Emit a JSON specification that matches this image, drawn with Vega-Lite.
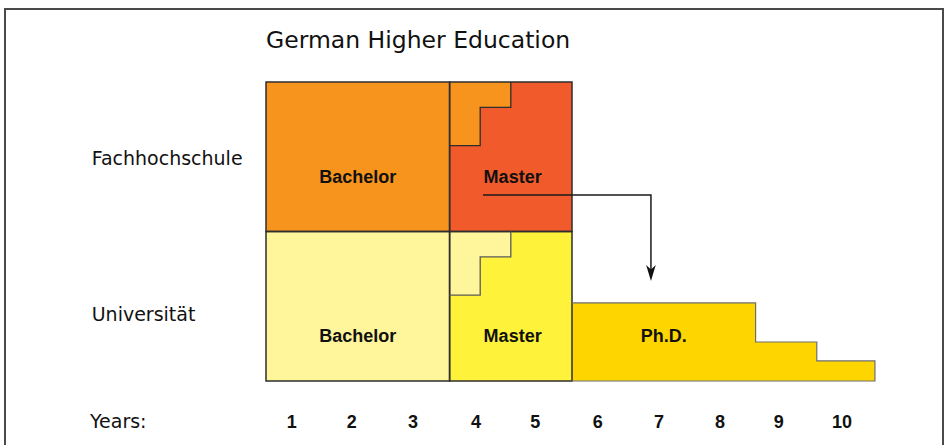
{
  "$schema": "https://vega.github.io/schema/vega-lite/v6.json",
  "width": 938,
  "height": 440,
  "autosize": {"type": "none"},
  "padding": {"left": 5, "top": 9, "right": 4, "bottom": 0},
  "background": "white",
  "config": {"view": {"stroke": "#4a4a4a", "strokeWidth": 2}},
  "datasets": {
    "blocks": [
      {"part": "FH Bachelor", "x0": 0, "x1": 3, "y0": 1, "y1": 2},
      {"part": "FH Master", "x0": 3, "x1": 5, "y0": 1, "y1": 2},
      {"part": "Uni Bachelor", "x0": 0, "x1": 3, "y0": 0, "y1": 1},
      {"part": "Uni Master", "x0": 3, "x1": 5, "y0": 0, "y1": 1}
    ],
    "steps": [
      {"part": "FH Bachelor", "x0": 3, "x1": 4, "y0": 1.83, "y1": 2},
      {"part": "FH Bachelor", "x0": 3, "x1": 3.5, "y0": 1.575, "y1": 2},
      {"part": "Uni Bachelor", "x0": 3, "x1": 4, "y0": 0.83, "y1": 1},
      {"part": "Uni Bachelor", "x0": 3, "x1": 3.5, "y0": 0.575, "y1": 1}
    ],
    "phd": [
      {"part": "Ph.D.", "x0": 5, "x1": 8, "y0": 0, "y1": 0.522},
      {"part": "Ph.D.", "x0": 5, "x1": 9, "y0": 0, "y1": 0.261},
      {"part": "Ph.D.", "x0": 5, "x1": 9.95, "y0": 0, "y1": 0.134}
    ],
    "fhStep": [
      {"i": 0, "x": 3, "y": 1.575},
      {"i": 1, "x": 3.5, "y": 1.575},
      {"i": 2, "x": 3.5, "y": 1.83},
      {"i": 3, "x": 4, "y": 1.83},
      {"i": 4, "x": 4, "y": 2}
    ],
    "uniStep": [
      {"i": 0, "x": 3, "y": 0.575},
      {"i": 1, "x": 3.5, "y": 0.575},
      {"i": 2, "x": 3.5, "y": 0.83},
      {"i": 3, "x": 4, "y": 0.83},
      {"i": 4, "x": 4, "y": 1}
    ],
    "phdOutline": [
      {"i": 0, "x": 5, "y": 0.522},
      {"i": 1, "x": 8, "y": 0.522},
      {"i": 2, "x": 8, "y": 0.261},
      {"i": 3, "x": 9, "y": 0.261},
      {"i": 4, "x": 9, "y": 0.134},
      {"i": 5, "x": 9.95, "y": 0.134},
      {"i": 6, "x": 9.95, "y": 0},
      {"i": 7, "x": 5, "y": 0}
    ],
    "arrow": [
      {"i": 0, "x": 3.546, "y": 1.244},
      {"i": 1, "x": 6.29, "y": 1.244},
      {"i": 2, "x": 6.29, "y": 0.73}
    ],
    "arrowhead": [{"x": 6.29, "y": 0.722}],
    "blockLabels": [
      {"label": "Bachelor", "x": 1.5, "y": 1.324},
      {"label": "Master", "x": 4.03, "y": 1.324},
      {"label": "Bachelor", "x": 1.5, "y": 0.263},
      {"label": "Master", "x": 4.03, "y": 0.263},
      {"label": "Ph.D.", "x": 6.5, "y": 0.263}
    ],
    "rowLabels": [
      {"label": "Fachhochschule", "x": -2.848, "y": 1.445},
      {"label": "Universität", "x": -2.848, "y": 0.401},
      {"label": "Years:", "x": -2.876, "y": -0.314}
    ],
    "title": [{"label": "German Higher Education", "x": 0, "y": 2.225}],
    "years": [
      {"label": "1", "x": 0.42, "y": -0.314},
      {"label": "2", "x": 1.40, "y": -0.314},
      {"label": "3", "x": 2.40, "y": -0.314},
      {"label": "4", "x": 3.43, "y": -0.314},
      {"label": "5", "x": 4.40, "y": -0.314},
      {"label": "6", "x": 5.42, "y": -0.314},
      {"label": "7", "x": 6.42, "y": -0.314},
      {"label": "8", "x": 7.42, "y": -0.314},
      {"label": "9", "x": 8.38, "y": -0.314},
      {"label": "10", "x": 9.41, "y": -0.314}
    ]
  },
  "layer": [
    {
      "data": {"name": "blocks"},
      "mark": {"type": "rect", "strokeWidth": 0},
      "encoding": {
        "x": {"field": "x0", "type": "quantitative", "scale": {"domain": [0, 10], "range": [261, 873]}, "axis": null},
        "x2": {"field": "x1"},
        "y": {"field": "y0", "type": "quantitative", "scale": {"domain": [0, 2], "range": [372, 73]}, "axis": null},
        "y2": {"field": "y1"},
        "fill": {"field": "part", "type": "nominal", "legend": null,
          "scale": {"domain": ["FH Bachelor", "FH Master", "Uni Bachelor", "Uni Master", "Ph.D."],
                    "range": ["#F7941D", "#F15A2B", "#FFF59B", "#FFF23A", "#FFD500"]}}
      }
    },
    {
      "data": {"name": "steps"},
      "mark": {"type": "rect", "strokeWidth": 0},
      "encoding": {
        "x": {"field": "x0", "type": "quantitative"},
        "x2": {"field": "x1"},
        "y": {"field": "y0", "type": "quantitative"},
        "y2": {"field": "y1"},
        "fill": {"field": "part", "type": "nominal", "legend": null}
      }
    },
    {
      "data": {"name": "phd"},
      "mark": {"type": "rect", "strokeWidth": 0},
      "encoding": {
        "x": {"field": "x0", "type": "quantitative"},
        "x2": {"field": "x1"},
        "y": {"field": "y0", "type": "quantitative"},
        "y2": {"field": "y1"},
        "fill": {"field": "part", "type": "nominal", "legend": null}
      }
    },
    {
      "data": {"name": "blocks"},
      "mark": {"type": "rect", "fill": null, "fillOpacity": 0, "stroke": "#2e2e2e", "strokeWidth": 1.5},
      "encoding": {
        "x": {"field": "x0", "type": "quantitative"},
        "x2": {"field": "x1"},
        "y": {"field": "y0", "type": "quantitative"},
        "y2": {"field": "y1"}
      }
    },
    {
      "data": {"name": "fhStep"},
      "mark": {"type": "line", "stroke": "#2e2e2e", "strokeWidth": 1.3},
      "encoding": {
        "x": {"field": "x", "type": "quantitative"},
        "y": {"field": "y", "type": "quantitative"},
        "order": {"field": "i", "type": "quantitative"}
      }
    },
    {
      "data": {"name": "uniStep"},
      "mark": {"type": "line", "stroke": "#5a5a5a", "strokeWidth": 1.3},
      "encoding": {
        "x": {"field": "x", "type": "quantitative"},
        "y": {"field": "y", "type": "quantitative"},
        "order": {"field": "i", "type": "quantitative"}
      }
    },
    {
      "data": {"name": "phdOutline"},
      "mark": {"type": "line", "stroke": "#6e6e6e", "strokeWidth": 1.2},
      "encoding": {
        "x": {"field": "x", "type": "quantitative"},
        "y": {"field": "y", "type": "quantitative"},
        "order": {"field": "i", "type": "quantitative"}
      }
    },
    {
      "data": {"name": "arrow"},
      "mark": {"type": "line", "stroke": "#1a1a1a", "strokeWidth": 1.5},
      "encoding": {
        "x": {"field": "x", "type": "quantitative"},
        "y": {"field": "y", "type": "quantitative"},
        "order": {"field": "i", "type": "quantitative"}
      }
    },
    {
      "data": {"name": "arrowhead"},
      "mark": {"type": "point", "shape": "M0,1L-0.6,-1L0,-0.45L0.6,-1Z", "size": 256, "filled": true, "fill": "#111", "opacity": 1, "strokeWidth": 0},
      "encoding": {
        "x": {"field": "x", "type": "quantitative"},
        "y": {"field": "y", "type": "quantitative"}
      }
    },
    {
      "data": {"name": "blockLabels"},
      "mark": {"type": "text", "font": "Liberation Sans", "fontWeight": "bold", "fontSize": 18, "align": "center", "baseline": "alphabetic", "fill": "#111"},
      "encoding": {
        "x": {"field": "x", "type": "quantitative"},
        "y": {"field": "y", "type": "quantitative"},
        "text": {"field": "label"}
      }
    },
    {
      "data": {"name": "years"},
      "mark": {"type": "text", "font": "Liberation Sans", "fontWeight": "bold", "fontSize": 18, "align": "center", "baseline": "alphabetic", "fill": "#111"},
      "encoding": {
        "x": {"field": "x", "type": "quantitative"},
        "y": {"field": "y", "type": "quantitative"},
        "text": {"field": "label"}
      }
    },
    {
      "data": {"name": "rowLabels"},
      "mark": {"type": "text", "font": "DejaVu Sans", "fontSize": 19, "align": "left", "baseline": "alphabetic", "fill": "#111"},
      "encoding": {
        "x": {"field": "x", "type": "quantitative"},
        "y": {"field": "y", "type": "quantitative"},
        "text": {"field": "label"}
      }
    },
    {
      "data": {"name": "title"},
      "mark": {"type": "text", "font": "DejaVu Sans", "fontSize": 23.5, "align": "left", "baseline": "alphabetic", "fill": "#111"},
      "encoding": {
        "x": {"field": "x", "type": "quantitative"},
        "y": {"field": "y", "type": "quantitative"},
        "text": {"field": "label"}
      }
    }
  ]
}
